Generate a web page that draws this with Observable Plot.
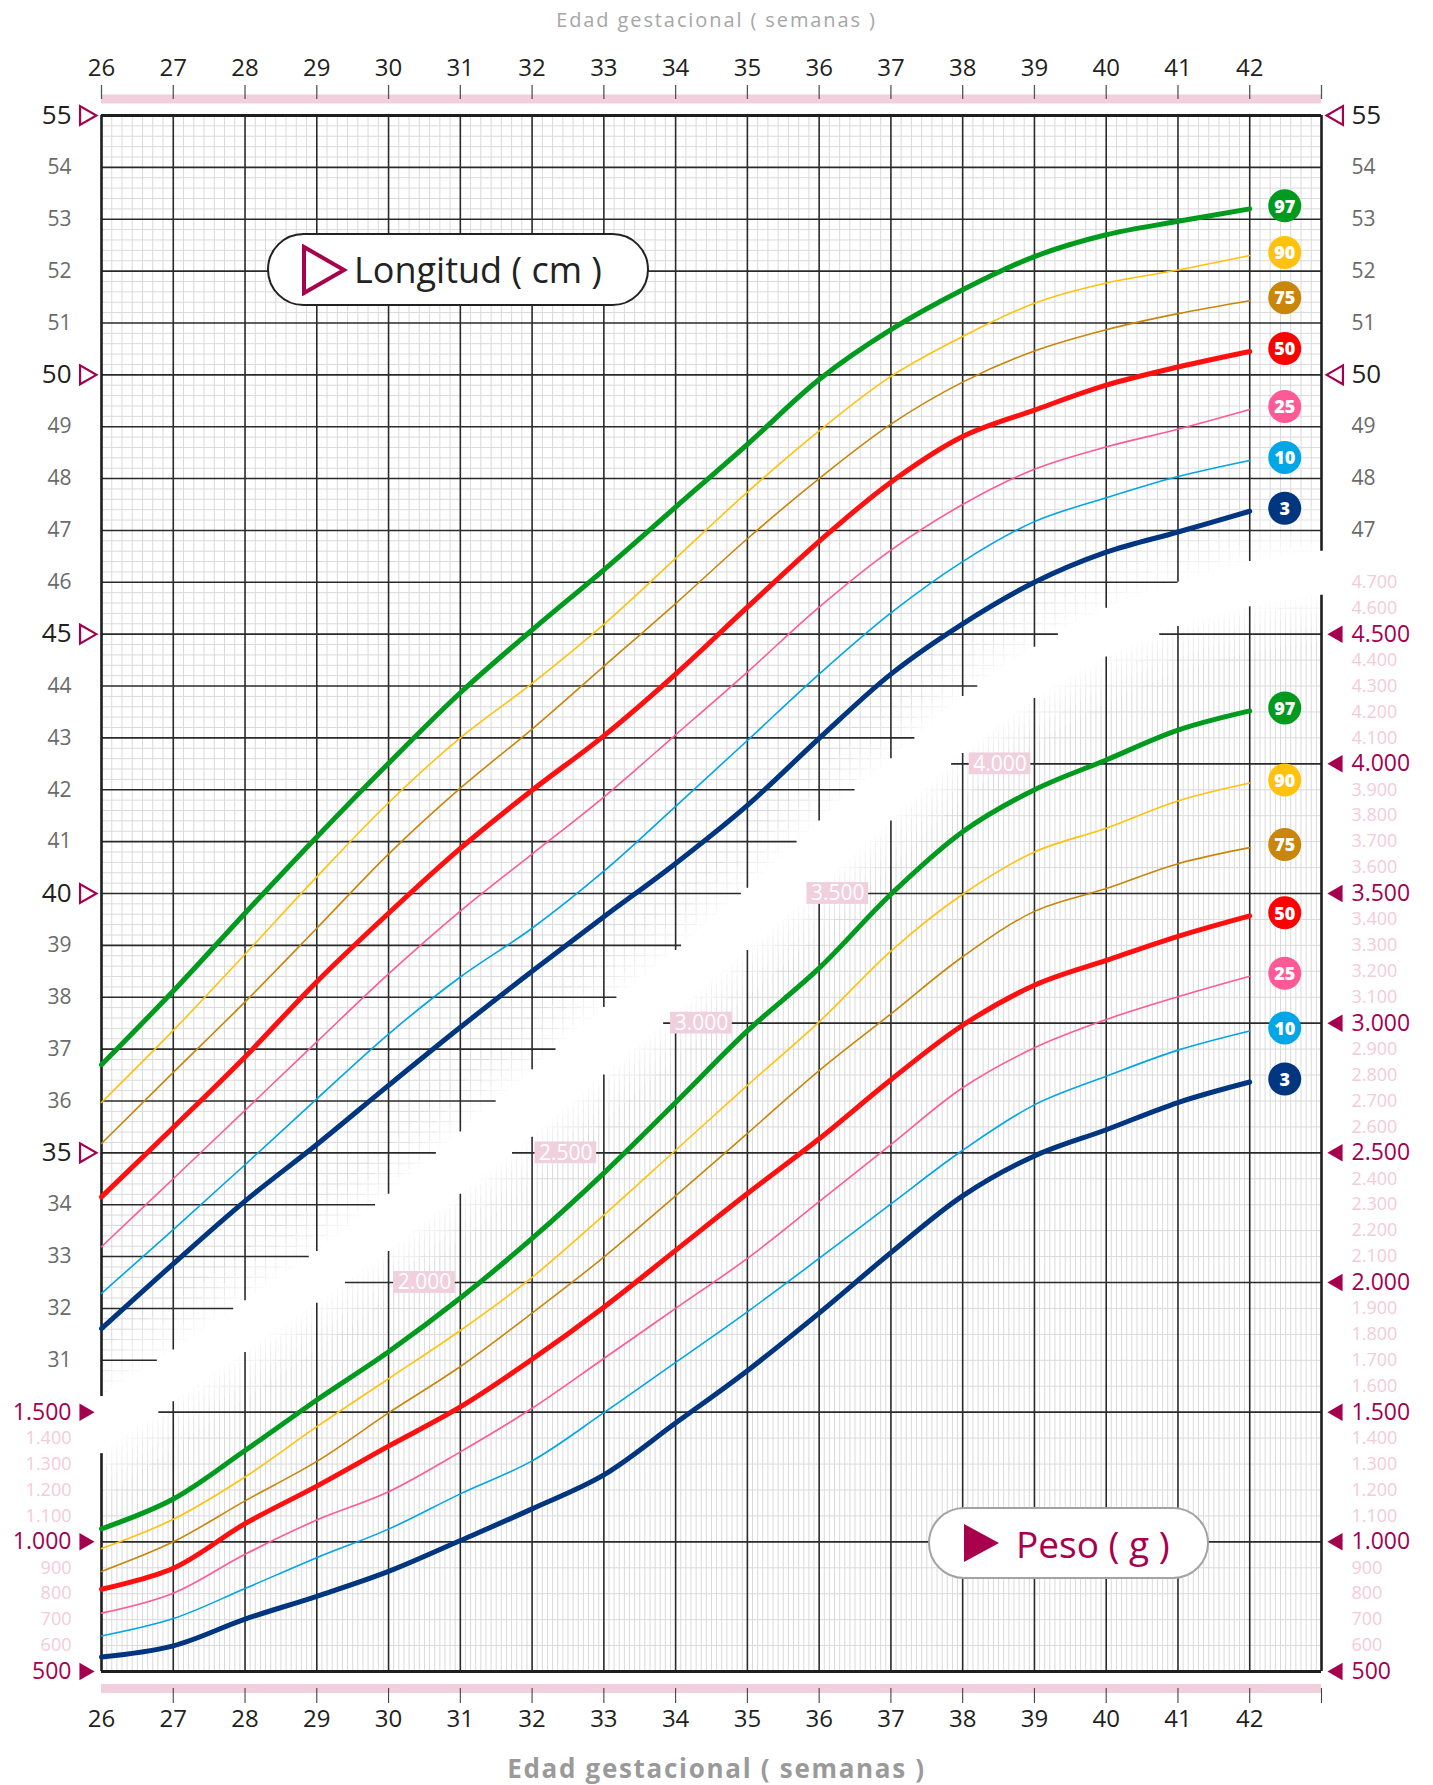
<!DOCTYPE html>
<html><head><meta charset="utf-8">
<script src="https://cdn.jsdelivr.net/npm/d3@7"></script>
<script src="https://cdn.jsdelivr.net/npm/@observablehq/plot@0.6"></script>
<style>
body{margin:0;background:#fff;font-family:'Open Sans',sans-serif;}
#page{position:relative;width:1433px;height:1785px;overflow:hidden;background:#fff}
#ttop{height:40px;line-height:40px;text-align:center;color:#a6a6a6;font-size:20px;letter-spacing:1.9px}
#tbot{height:35px;line-height:36px;text-align:center;color:#9a9a9a;font-size:26px;font-weight:700;letter-spacing:1.7px;white-space:nowrap}
.pill{position:absolute;background:#fff;border-radius:40px;box-sizing:border-box;display:flex;align-items:center}
#chart svg{display:block}
</style></head><body>
<div id="page">
<div id="ttop">Edad gestacional ( semanas )</div>
<div id="chart"></div>
<div id="tbot">Edad gestacional ( semanas )</div>
<div class="pill" style="left:267px;top:233px;width:382px;height:73px;border:2.5px solid #222">
 <svg width="48" height="52" style="margin-left:31px"><polygon points="4,3 44,26 4,49" fill="none" stroke="#a8004c" stroke-width="4"/></svg>
 <span style="font-size:36px;color:#222;margin-left:6px;white-space:nowrap">Longitud ( cm )</span></div>
<div class="pill" style="left:928px;top:1507px;width:281px;height:72px;border:2.5px solid #a3a3a3">
 <svg width="40" height="42" style="margin-left:32px"><polygon points="2,2 37,21 2,40" fill="#a8004c"/></svg>
 <span style="font-size:37px;color:#a8004c;margin-left:14px;white-space:nowrap">Peso ( g )</span></div>
</div>
<script>
// ---------------- data ----------------
const weeks = [26,27,28,29,30,31,32,33,34,35,36,37,38,39,40,41,42];

const lengthP3  = [31.61,32.86,34.07,35.16,36.30,37.42,38.50,39.55,40.58,41.70,42.99,44.23,45.20,46.00,46.58,46.97,47.37];
const lengthP10 = [32.29,33.52,34.77,36.04,37.29,38.39,39.33,40.43,41.68,42.95,44.23,45.41,46.40,47.17,47.63,48.04,48.35];
const lengthP25 = [33.19,34.50,35.82,37.14,38.45,39.66,40.76,41.86,43.06,44.27,45.52,46.62,47.50,48.18,48.61,48.95,49.33];
const lengthP50 = [34.15,35.49,36.85,38.30,39.62,40.87,41.99,43.04,44.23,45.52,46.79,47.93,48.81,49.32,49.80,50.15,50.45];
const lengthP75 = [35.18,36.55,37.91,39.33,40.76,42.03,43.17,44.38,45.59,46.84,48.00,49.05,49.86,50.46,50.87,51.18,51.43];
const lengthP90 = [35.97,37.36,38.83,40.32,41.75,43.00,44.05,45.19,46.46,47.74,48.92,49.97,50.74,51.38,51.77,52.02,52.30];
const lengthP97 = [36.70,38.12,39.62,41.09,42.51,43.87,45.08,46.24,47.45,48.66,49.91,50.87,51.64,52.28,52.70,52.96,53.20];

const weightP3  = [556,599,702,790,886,1005,1127,1258,1458,1660,1882,2115,2334,2488,2589,2694,2773];
const weightP10 = [637,704,820,939,1049,1185,1312,1498,1692,1887,2093,2303,2510,2685,2795,2896,2970];
const weightP25 = [725,802,952,1084,1193,1347,1515,1707,1900,2093,2312,2532,2751,2905,3014,3102,3181];
const weightP50 = [817,898,1070,1215,1369,1520,1704,1905,2124,2343,2554,2782,2992,3146,3242,3335,3414];
const weightP75 = [886,1000,1158,1310,1497,1676,1882,2098,2334,2575,2817,3036,3256,3431,3519,3615,3677];
const weightP90 = [974,1087,1250,1444,1629,1815,2020,2260,2510,2760,3005,3278,3497,3660,3752,3857,3926];
const weightP97 = [1050,1165,1352,1547,1733,1940,2170,2422,2694,2970,3212,3497,3738,3900,4015,4130,4204];

const percentiles = [97,90,75,50,25,10,3];
const pColors = ["#009a1e","#ffc20e","#c8860a","#ff1010","#ff5a96","#00a6e6","#003580"];
const pBadge  = ["#009a1e","#ffc20e","#c8860a","#ff0000","#ff5a96","#00a6e6","#003580"];
const pWidths = [5,1.6,1.6,5,1.6,1.6,5];

// separation band between the two grids (cm units), by week
const bandWeeks = [26,27,28,29,30,31,32,33,34,35,36,37,38,39,40,41,42,43];
const bandUpper = [30.3,31.2,32.15,33.1,34.2,35.4,36.6,37.8,38.9,40.1,41.4,42.6,43.8,44.75,45.5,46.0,46.4,46.6];
const bandLower = [29.2,30.2,31.15,32.1,33.1,34.2,35.3,36.5,37.7,38.9,40.1,41.4,42.7,43.76,44.56,45.15,45.53,45.75];

// band labels (weight)
const bandLabelWeights = [2000,2500,3000,3500,4000];
const bandLabelWeeks   = [30.5,32.47,34.36,36.26,38.52];

// tick labels
const weekLabels = [26,27,28,29,30,31,32,33,34,35,36,37,38,39,40,41,42];
const topTicks = [26,27,28,29,30,31,32,33,34,35,36,37,38,39,40,41,42,43];
const bottomTicks = [27,28,29,30,31,32,33,34,35,36,37,38,39,40,41,42,43];
const lengthLeftLabels = [31,32,33,34,35,36,37,38,39,40,41,42,43,44,45,46,47,48,49,50,51,52,53,54,55];
const lengthLeftMajor = [35,40,45,50,55];
const lengthRightLabels = [47,48,49,50,51,52,53,54,55];
const lengthRightMajor = [50,55];
const weightLeftLabels = [500,600,700,800,900,1000,1100,1200,1300,1400,1500];
const weightRightLabels = [500,600,700,800,900,1000,1100,1200,1300,1400,1500,1600,1700,1800,1900,2000,2100,2200,2300,2400,2500,2600,2700,2800,2900,3000,3100,3200,3300,3400,3500,3600,3700,3800,3900,4000,4100,4200,4300,4400,4500,4600,4700];
const weightMajorStep = 500;

// ---------------- helpers ----------------
const toL = w => 22.5 + w / 200;            // weight (g) on the length (cm) scale
const fmtW = w => w >= 1000 ? Math.floor(w/1000) + "." + String(w % 1000).padStart(3,"0") : String(w);
function lerpAt(xs, ys, x){
  if (x <= xs[0]) return ys[0];
  for (let i = 1; i < xs.length; i++) if (x <= xs[i]) { const t = (x - xs[i-1])/(xs[i]-xs[i-1]); return ys[i-1] + t*(ys[i]-ys[i-1]); }
  return ys[ys.length-1];
}
function invAt(xs, ys, y){
  if (y <= ys[0]) return xs[0];
  for (let i = 1; i < ys.length; i++) if (y <= ys[i]) { const t = (y - ys[i-1])/(ys[i]-ys[i-1]); return xs[i-1] + t*(xs[i]-xs[i-1]); }
  return xs[xs.length-1];
}
const upAt = x => lerpAt(bandWeeks, bandUpper, x);
const lowAt = x => lerpAt(bandWeeks, bandLower, x);
const upX = L => L >= bandUpper[bandUpper.length-1] ? 43 : invAt(bandWeeks, bandUpper, L);
const lowX = L => L <= bandLower[0] ? 26 : invAt(bandWeeks, bandLower, L);
const isInt = v => Math.abs(v - Math.round(v)) < 1e-6;

// grid positions
const dayLines = d3.range(1, 17*7).map(i => 26 + i/7).filter(x => !isInt(x));
const halfDayLines = d3.range(1, 17*14).map(i => 26 + i/14).filter(x => !isInt(x));
const mmLines = d3.range(0, 151).map(i => 25 + i*0.2).filter(L => L > bandUpper[0] && L < 55 && !isInt(L));
const gLines = d3.range(1, 42).map(i => 25 + i*0.5).filter(L => L < bandLower[bandLower.length-1] && !isInt((L-25)/2.5));
const cmMajor = d3.range(31, 55);
const gMajor = d3.range(1000, 4600, weightMajorStep).map(toL);
const weekMajor = d3.range(27, 43);

// ---------------- layout ----------------
const W = 1433, H = 1710, mt = 75, mb = 79, ml = 101, mr = 112;
const magenta = "#a4004e", pinkTxt = "#f3cbdb", strip = "#f1cfdc";
const minorStroke = "#dadada", majorStroke = "#2a2a2a";
const k = (H - mt - mb) / 30;      // px per cm
const px = p => p / k;

const curveMarks = [];
const lens = [lengthP97,lengthP90,lengthP75,lengthP50,lengthP25,lengthP10,lengthP3];
const wts  = [weightP97,weightP90,weightP75,weightP50,weightP25,weightP10,weightP3];
const order = [1,2,4,5,0,3,6];
for (const i of order) {
  const rowsL = weeks.map((w, j) => ({week: w, v: lens[i][j]}));
  const rowsW = weeks.map((w, j) => ({week: w, v: toL(wts[i][j])}));
  for (const rows of [rowsL, rowsW])
    curveMarks.push(Plot.line(rows, {x: "week", y: "v", stroke: pColors[i], strokeWidth: pWidths[i], curve: "catmull-rom", strokeLinecap: "round"}));
}
const badges = [];
percentiles.forEach((p, i) => {
  badges.push({p, color: pBadge[i], y: lens[i][lens[i].length-1]});
  badges.push({p, color: pBadge[i], y: toL(wts[i][wts[i].length-1])});
});

const fades = [[0.9,0.25],[0.6,0.3],[0.35,0.35],[0.15,0.5]].map(([f,o]) =>
  Plot.areaY(bandWeeks, {x: d => d, y1: (d,i) => bandLower[i]-f, y2: (d,i) => bandUpper[i]+f, fill: "white", fillOpacity: o, curve: "catmull-rom"}));

const bandLabels = bandLabelWeights.map((w, i) => ({w, week: bandLabelWeeks[i], L: toL(w)}));

const chart = Plot.plot({
  width: W, height: H, marginTop: mt, marginBottom: mb, marginLeft: ml, marginRight: mr,
  x: {domain: [26, 43], axis: null},
  y: {domain: [25, 55], axis: null},
  color: {type: "identity"},
  style: {fontFamily: "'Open Sans', sans-serif", background: "white", overflow: "visible"},
  marks: [
    // minor grid, length region
    Plot.ruleX(dayLines, {x: d => d, y1: d => upAt(d), y2: 55, stroke: minorStroke, strokeWidth: 1}),
    Plot.ruleY(mmLines, {y: d => d, x1: 26, x2: d => upX(d), stroke: minorStroke, strokeWidth: 1}),
    // minor grid, weight region
    Plot.ruleX(halfDayLines, {x: d => d, y1: 25, y2: d => lowAt(d), stroke: minorStroke, strokeWidth: 1}),
    Plot.ruleY(gLines, {y: d => d, x1: d => lowX(d), x2: 43, stroke: minorStroke, strokeWidth: 1}),
    // fading band
    ...fades,
    Plot.areaY(bandWeeks, {x: d => d, y1: (d,i) => bandLower[i], y2: (d,i) => bandUpper[i], fill: "white", curve: "catmull-rom"}),
    // major grid
    Plot.ruleX(weekMajor, {x: d => d, y1: d => upAt(d), y2: 55, stroke: majorStroke, strokeWidth: 1.6}),
    Plot.ruleX(weekMajor, {x: d => d, y1: 25, y2: d => lowAt(d), stroke: majorStroke, strokeWidth: 1.6}),
    Plot.ruleY(cmMajor, {y: d => d, x1: 26, x2: d => upX(d), stroke: majorStroke, strokeWidth: 1.6}),
    Plot.ruleY(gMajor, {y: d => d, x1: d => lowX(d), x2: 43, stroke: majorStroke, strokeWidth: 1.6}),
    // frame
    Plot.ruleX([26], {x: d => d, y1: bandUpper[0], y2: 55, stroke: "#1e1e1e", strokeWidth: 2.6}),
    Plot.ruleX([26], {x: d => d, y1: 25, y2: bandLower[0], stroke: "#1e1e1e", strokeWidth: 2.6}),
    Plot.ruleX([43], {x: d => d, y1: bandUpper[bandUpper.length-1], y2: 55, stroke: "#1e1e1e", strokeWidth: 2.6}),
    Plot.ruleX([43], {x: d => d, y1: 25, y2: bandLower[bandLower.length-1], stroke: "#1e1e1e", strokeWidth: 2.6}),
    Plot.ruleY([55], {y: d => d, x1: 26, x2: 43, stroke: "#1e1e1e", strokeWidth: 3.2}),
    Plot.ruleY([25], {y: d => d, x1: 26, x2: 43, stroke: "#1e1e1e", strokeWidth: 3.2}),
    // band labels
    Plot.rect(bandLabels, {x1: d => d.week - 0.43, x2: d => d.week + 0.43, y1: d => d.L - 0.21, y2: d => d.L + 0.21, fill: "#efd0dc"}),
    Plot.text(bandLabels, {x: "week", y: "L", text: d => fmtW(d.w), fill: "white", fontSize: 21}),
    // curves
    ...curveMarks,
    // badges
    Plot.dot(badges, {x: 42, y: "y", dx: 35, dy: -3, r: 16.5, fill: "color", stroke: "none"}),
    Plot.text(badges, {x: 42, y: "y", dx: 35, dy: -2, text: d => String(d.p), fill: "white", fontSize: 18, fontWeight: 800}),
    // top & bottom strips and ticks
    Plot.ruleY([55], {y: d => d, x1: 26, x2: 43, dy: -16.5, stroke: strip, strokeWidth: 9}),
    Plot.ruleY([25], {y: d => d, x1: 26, x2: 43, dy: 17, stroke: strip, strokeWidth: 9}),
    Plot.ruleX(topTicks, {x: d => d, y1: 55, y2: 55 + px(14), dy: -16, stroke: "#555", strokeWidth: 1.3}),
    Plot.ruleX(bottomTicks, {x: d => d, y1: 25, y2: 25 - px(15), dy: 17, stroke: "#444", strokeWidth: 1.1}),
    Plot.text(weekLabels, {x: d => d, y: 55, dy: -47, text: d => String(d), fontSize: 24, fill: "#231f20"}),
    Plot.text(weekLabels, {x: d => d, y: 25, dy: 48, text: d => String(d), fontSize: 24, fill: "#231f20"}),
    // length labels
    Plot.text(lengthLeftLabels.filter(d => !lengthLeftMajor.includes(d)), {x: 26, y: d => d, dx: -30, text: d => String(d), textAnchor: "end", fontSize: 21, fill: "#6b6b6b"}),
    Plot.text(lengthLeftMajor, {x: 26, y: d => d, dx: -30, text: d => String(d), textAnchor: "end", fontSize: 26, fill: "#231f20"}),
    Plot.text(lengthRightLabels.filter(d => !lengthRightMajor.includes(d)), {x: 43, y: d => d, dx: 30, text: d => String(d), textAnchor: "start", fontSize: 21, fill: "#6b6b6b"}),
    Plot.text(lengthRightMajor, {x: 43, y: d => d, dx: 30, text: d => String(d), textAnchor: "start", fontSize: 26, fill: "#231f20"}),
    Plot.dot(lengthLeftMajor, {x: 26, y: d => d, dx: -16, symbol: "triangle", rotate: 90, r: 7, fill: "none", stroke: magenta, strokeWidth: 2.2}),
    Plot.dot(lengthRightMajor, {x: 43, y: d => d, dx: 16, symbol: "triangle", rotate: -90, r: 7, fill: "none", stroke: magenta, strokeWidth: 2.2}),
    // weight labels
    Plot.text(weightLeftLabels.filter(w => w % weightMajorStep), {x: 26, y: d => toL(d), dx: -30, text: fmtW, textAnchor: "end", fontSize: 18, fill: pinkTxt}),
    Plot.text(weightLeftLabels.filter(w => !(w % weightMajorStep)), {x: 26, y: d => toL(d), dx: -30, text: fmtW, textAnchor: "end", fontSize: 23, fill: magenta}),
    Plot.text(weightRightLabels.filter(w => w % weightMajorStep), {x: 43, y: d => toL(d), dx: 30, text: fmtW, textAnchor: "start", fontSize: 18, fill: pinkTxt}),
    Plot.text(weightRightLabels.filter(w => !(w % weightMajorStep)), {x: 43, y: d => toL(d), dx: 30, text: fmtW, textAnchor: "start", fontSize: 23, fill: magenta}),
    Plot.dot(weightLeftLabels.filter(w => !(w % weightMajorStep)), {x: 26, y: d => toL(d), dx: -17, symbol: "triangle", rotate: 90, r: 6.5, fill: magenta}),
    Plot.dot(weightRightLabels.filter(w => !(w % weightMajorStep)), {x: 43, y: d => toL(d), dx: 16, symbol: "triangle", rotate: -90, r: 6.5, fill: magenta})
  ]
});
document.getElementById("chart").appendChild(chart);
</script>
</body></html>
